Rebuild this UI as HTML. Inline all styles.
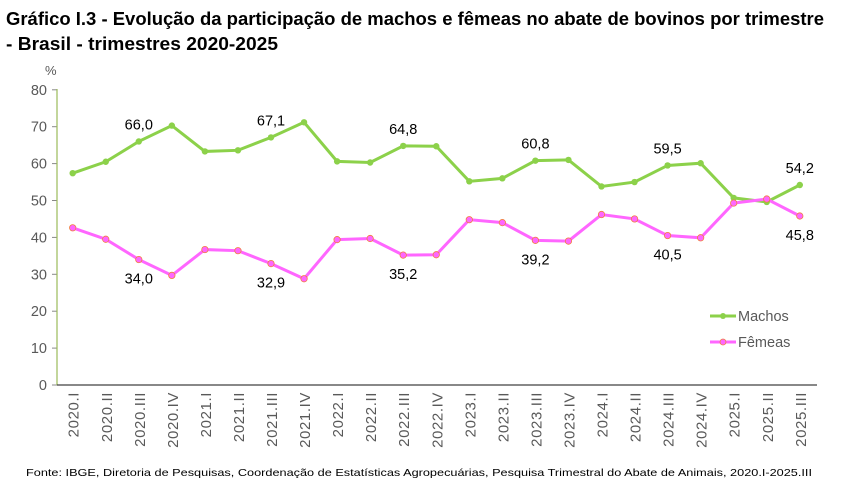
<!DOCTYPE html>
<html><head><meta charset="utf-8"><style>
body{margin:0;background:#fff;width:842px;height:493px;overflow:hidden}
svg{font-family:"Liberation Sans",sans-serif}
</style></head><body>
<svg width="842" height="493" xmlns="http://www.w3.org/2000/svg">
<text x="6" y="25" font-size="18" font-weight="bold" fill="#000" textLength="818" lengthAdjust="spacingAndGlyphs">Gráfico I.3 - Evolução da participação de machos e fêmeas no abate de bovinos por trimestre</text>
<text x="6" y="50" font-size="18" font-weight="bold" fill="#000" textLength="272" lengthAdjust="spacingAndGlyphs">- Brasil - trimestres 2020-2025</text>
<text x="45" y="75" font-size="13" fill="#595959">%</text>
<g id="g"></g>
<text x="26" y="476" font-size="10.5" fill="#000" textLength="786" lengthAdjust="spacingAndGlyphs">Fonte: IBGE, Diretoria de Pesquisas, Coordenação de Estatísticas Agropecuárias, Pesquisa Trimestral do Abate de Animais, 2020.I-2025.III</text>
</svg>
<script>
const m=[57.4,60.5,66.0,70.3,63.3,63.6,67.1,71.2,60.6,60.3,64.8,64.7,55.2,56.0,60.8,61.0,53.8,55.0,59.5,60.1,50.7,49.6,54.2];
const f=[42.6,39.5,34.0,29.7,36.7,36.4,32.9,28.8,39.4,39.7,35.2,35.3,44.8,44.0,39.2,39.0,46.2,45.0,40.5,39.9,49.3,50.4,45.8];
const lab=[];for(let y=2020;y<=2025;y++)for(const q of["I","II","III","IV"]){if(y==2025&&q=="IV")break;lab.push(y+"."+q)}
const X=i=>72.7+i*33.05,Y=v=>385-3.69*v;
let s='';
for(let v=0;v<=80;v+=10){s+=`<line x1="52" x2="57" y1="${Y(v)}" y2="${Y(v)}" stroke="#888"/><text x="47" y="${Y(v)+5}" font-size="14.5" fill="#595959" text-anchor="end">${v}</text>`}
s+=`<line x1="57" y1="89" x2="57" y2="385" stroke="#9bbb59" stroke-width="1.2"/><line x1="57" y1="385" x2="817" y2="385" stroke="#404040" stroke-width="1.2"/>`;
lab.forEach((l,i)=>{s+=`<text transform="translate(${X(i)+6},392) rotate(-90)" font-size="15" letter-spacing="0.6" fill="#595959" text-anchor="end">${l}</text>`});
const line=(a,c)=>`<polyline fill="none" stroke="${c}" stroke-width="3" points="${a.map((v,i)=>X(i)+','+Y(v)).join(' ')}"/>`;
s+=line(m,'#8cd14a')+line(f,'#ff66ff');
m.forEach((v,i)=>s+=`<circle cx="${X(i)}" cy="${Y(v)}" r="3.2" fill="#8cd14a"/>`);
f.forEach((v,i)=>s+=`<circle cx="${X(i)}" cy="${Y(v)}" r="3.2" fill="#ff66ff" stroke="#f08040" stroke-width="0.8"/>`);
[2,6,10,14,18,22].forEach(i=>{s+=`<text x="${X(i)}" y="${Y(m[i])-12}" font-size="14.5" fill="#000" text-anchor="middle">${m[i].toFixed(1).replace('.',',')}</text><text x="${X(i)}" y="${Y(f[i])+24}" font-size="14.5" fill="#000" text-anchor="middle">${f[i].toFixed(1).replace('.',',')}</text>`});
s+=`<line x1="710" x2="736" y1="316" y2="316" stroke="#8cd14a" stroke-width="3"/><circle cx="723" cy="316" r="3" fill="#8cd14a"/><text x="738" y="321" font-size="14.5" fill="#595959">Machos</text>`;
s+=`<line x1="710" x2="736" y1="342" y2="342" stroke="#ff66ff" stroke-width="3"/><circle cx="723" cy="342" r="3" fill="#ff66ff" stroke="#f08040" stroke-width="0.8"/><text x="738" y="347" font-size="14.5" fill="#595959">Fêmeas</text>`;
document.getElementById('g').innerHTML=s;
</script>
</body></html>
